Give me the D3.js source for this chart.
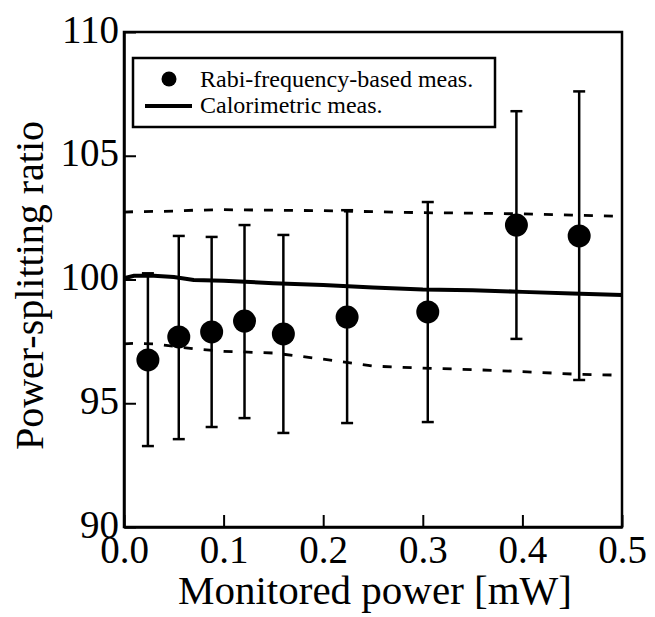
<!DOCTYPE html>
<html lang="en">
<head>
<meta charset="UTF-8">
<title>Power-splitting ratio</title>
<script src="https://cdn.jsdelivr.net/npm/d3@7/dist/d3.min.js"></script>
<style>
  body { margin: 0; background: #fff; }
  text { font-family: "Liberation Serif", "Times New Roman", serif; fill: #000; }
</style>
</head>
<body>
<svg id="chart" width="655" height="617"></svg>
<script>
    // Rabi-frequency-based measurements (points with error bars)
    let power = [0.024, 0.055, 0.088, 0.121, 0.160, 0.224, 0.305, 0.394, 0.457];
    let ratio = [96.75, 97.68, 97.88, 98.32, 97.80, 98.48, 98.69, 102.2, 101.76];
    let errHigh = [100.25, 101.76, 101.72, 102.2, 101.8, 102.8, 103.13, 106.8, 107.6];
    let errLow = [93.27, 93.55, 94.04, 94.4, 93.8, 94.2, 94.24, 97.6, 95.94];

    // calorimetric measurement and its bounds
    let calPower = [0, 0.01, 0.03, 0.05, 0.07, 0.1, 0.15, 0.2, 0.25, 0.3, 0.35, 0.4, 0.45, 0.5];
    let calRatio = [100.05, 100.15, 100.15, 100.1, 99.98, 99.95, 99.85, 99.78, 99.68, 99.6, 99.57, 99.5, 99.43, 99.37];
    let calUpper = [102.72, 102.74, 102.75, 102.76, 102.8, 102.82, 102.8, 102.78, 102.74, 102.7, 102.68, 102.65, 102.6, 102.55];
    let calLower = [97.4, 97.42, 97.4, 97.3, 97.2, 97.1, 97.03, 96.78, 96.5, 96.42, 96.36, 96.28, 96.18, 96.13];

    let xTicks = [0, 0.1, 0.2, 0.3, 0.4, 0.5];
    let yTicks = [90, 95, 100, 105, 110];

    let svg = d3.select('svg#chart');
    let plot = {left: 124, right: 622, top: 32, bottom: 527};

    let xScale = d3.scaleLinear().domain([0, 0.5]).range([plot.left, plot.right]);
    let yScale = d3.scaleLinear().domain([90, 110]).range([plot.bottom, plot.top]);

    // frame
    svg.append('rect')
        .attr('x', plot.left).attr('y', plot.top)
        .attr('width', plot.right - plot.left).attr('height', plot.bottom - plot.top)
        .attr('fill', 'none').attr('stroke', '#000').attr('stroke-width', 2.5);

    // axes, ticks pointing inward
    let xAxis = svg.append('g')
        .attr('transform', 'translate(0,' + plot.bottom + ')')
        .call(d3.axisBottom(xScale).tickValues(xTicks).tickFormat(d3.format('.1f'))
            .tickSizeInner(-12).tickSizeOuter(0).tickPadding(8));
    let yAxis = svg.append('g')
        .attr('transform', 'translate(' + plot.left + ',0)')
        .call(d3.axisLeft(yScale).tickValues(yTicks).tickFormat(d3.format('d'))
            .tickSizeInner(-12).tickSizeOuter(0).tickPadding(5));

    [xAxis, yAxis].forEach(function(ax) {
        ax.select('.domain').attr('stroke-width', 2.5);
        ax.selectAll('.tick line').attr('stroke-width', 2);
        ax.selectAll('.tick text').style('font-size', '39px').attr('font-family', null);
    });
    yAxis.selectAll('.tick text').attr('dy', '0.26em');

    // axis titles
    svg.append('text')
        .attr('x', (plot.left + plot.right) / 2 + 2).attr('y', 604)
        .attr('text-anchor', 'middle')
        .style('font-size', '41px')
        .text('Monitored power [mW]');
    svg.append('text')
        .attr('transform', 'translate(43,' + ((plot.top + plot.bottom) / 2 + 6) + ') rotate(-90)')
        .attr('text-anchor', 'middle')
        .style('font-size', '40px')
        .text('Power-splitting ratio');

    // calorimetric lines
    let line = function(ys) {
        return d3.line()
            .x(function(d, i) { return xScale(calPower[i]); })
            .y(function(d) { return yScale(d); })(ys);
    };
    svg.append('path').attr('d', line(calUpper))
        .attr('fill', 'none').attr('stroke', '#000').attr('stroke-width', 2.8)
        .attr('stroke-dasharray', '9,11');
    svg.append('path').attr('d', line(calLower))
        .attr('fill', 'none').attr('stroke', '#000').attr('stroke-width', 2.8)
        .attr('stroke-dasharray', '9,11');
    svg.append('path').attr('d', line(calRatio))
        .attr('fill', 'none').attr('stroke', '#000').attr('stroke-width', 4);

    // error bars
    let bars = svg.append('g').attr('stroke', '#000').attr('stroke-width', 2.5);
    bars.selectAll('line.err')
        .data(power).enter().append('line')
        .attr('class', 'err')
        .attr('x1', function(d) { return xScale(d); })
        .attr('x2', function(d) { return xScale(d); })
        .attr('y1', function(d, i) { return yScale(errLow[i]); })
        .attr('y2', function(d, i) { return yScale(errHigh[i]); });
    bars.selectAll('line.capHi')
        .data(power).enter().append('line')
        .attr('class', 'capHi')
        .attr('x1', function(d) { return xScale(d) - 6; })
        .attr('x2', function(d) { return xScale(d) + 6; })
        .attr('y1', function(d, i) { return yScale(errHigh[i]); })
        .attr('y2', function(d, i) { return yScale(errHigh[i]); });
    bars.selectAll('line.capLo')
        .data(power).enter().append('line')
        .attr('class', 'capLo')
        .attr('x1', function(d) { return xScale(d) - 6; })
        .attr('x2', function(d) { return xScale(d) + 6; })
        .attr('y1', function(d, i) { return yScale(errLow[i]); })
        .attr('y2', function(d, i) { return yScale(errLow[i]); });

    svg.append('g').selectAll('circle')
        .data(power).enter().append('circle')
        .attr('cx', function(d) { return xScale(d); })
        .attr('cy', function(d, i) { return yScale(ratio[i]); })
        .attr('r', 11.5)
        .attr('fill', '#000');

    // legend
    let legend = svg.append('g');
    legend.append('rect')
        .attr('x', 133).attr('y', 58).attr('width', 362).attr('height', 69)
        .attr('fill', '#fff').attr('stroke', '#000').attr('stroke-width', 2.5);
    legend.append('circle').attr('cx', 169).attr('cy', 79).attr('r', 7.5).attr('fill', '#000');
    legend.append('line').attr('x1', 145).attr('x2', 192).attr('y1', 106).attr('y2', 106)
        .attr('stroke', '#000').attr('stroke-width', 4);
    legend.append('text').attr('x', 200).attr('y', 87).style('font-size', '24px')
        .text('Rabi-frequency-based meas.');
    legend.append('text').attr('x', 200).attr('y', 113).style('font-size', '24px')
        .text('Calorimetric meas.');
</script>
</body>
</html>
